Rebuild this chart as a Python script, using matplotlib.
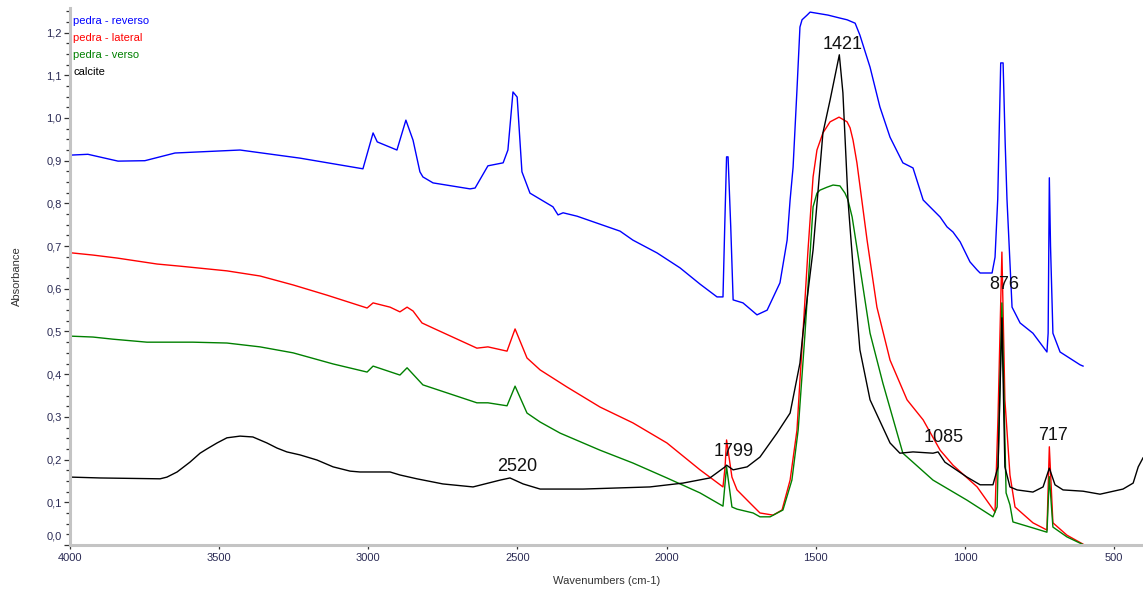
import matplotlib
matplotlib.use("Agg")
import matplotlib.pyplot as plt
from matplotlib.ticker import MultipleLocator, FuncFormatter

plt.rcParams['font.family'] = ['Liberation Sans', 'DejaVu Sans']

# pedra - reverso (blue)
blue_wn = [4000, 3940, 3839, 3749, 3648, 3430, 3229, 3018, 2984, 2970,
           2904, 2874, 2850, 2827, 2817, 2783, 2659, 2642, 2599, 2548,
           2532, 2515, 2501, 2485, 2458, 2381, 2364, 2347, 2300, 2156,
           2113, 2032, 1955, 1888, 1831, 1811, 1805, 1799, 1794, 1785,
           1777, 1744, 1697, 1663, 1620, 1596, 1586, 1576, 1563, 1553,
           1546, 1529, 1519, 1459, 1419, 1395, 1368, 1352, 1318, 1285,
           1251, 1208, 1174, 1140, 1083, 1060, 1040, 1016, 983, 959,
           949, 909, 899, 890, 880, 872, 865, 859, 842, 815,
           772, 725, 721, 717, 713, 705, 681, 614, 604]
blue_abs = [0.913, 0.915, 0.899, 0.900, 0.918, 0.925, 0.906, 0.881, 0.965, 0.944,
            0.925, 0.995, 0.948, 0.874, 0.862, 0.848, 0.834, 0.836, 0.888, 0.895,
            0.925, 1.061, 1.049, 0.874, 0.824, 0.792, 0.773, 0.778, 0.770, 0.735,
            0.714, 0.684, 0.649, 0.611, 0.581, 0.581, 0.750, 0.909, 0.909, 0.745,
            0.574, 0.567, 0.539, 0.550, 0.614, 0.714, 0.808, 0.885, 1.066, 1.213,
            1.230, 1.241, 1.248, 1.241, 1.234, 1.230, 1.222, 1.194, 1.119, 1.026,
            0.955, 0.895, 0.883, 0.808, 0.768, 0.745, 0.733, 0.710, 0.663, 0.644,
            0.637, 0.637, 0.674, 0.810, 1.129, 1.129, 0.941, 0.810, 0.557, 0.520,
            0.496, 0.452, 0.496, 0.860, 0.700, 0.496, 0.452, 0.422, 0.419]

# pedra - lateral (red)
red_wn = [3993, 3923, 3842, 3708, 3631, 3474, 3363, 3252, 3138, 3004,
          2984, 2927, 2894, 2870, 2850, 2820, 2783, 2636, 2599, 2535,
          2508, 2468, 2424, 2334, 2223, 2113, 1999, 1888, 1811, 1804,
          1799, 1781, 1764, 1720, 1687, 1643, 1613, 1586, 1563, 1553,
          1543, 1526, 1509, 1496, 1476, 1452, 1422, 1395, 1385, 1375,
          1362, 1328, 1295, 1251, 1194, 1140, 1083, 1040, 959, 899,
          889, 876, 866, 849, 832, 772, 725, 717, 705, 658,
          604]
red_abs = [0.684, 0.679, 0.672, 0.658, 0.653, 0.642, 0.630, 0.609, 0.585, 0.555,
           0.567, 0.557, 0.546, 0.557, 0.548, 0.520, 0.508, 0.461, 0.464, 0.454,
           0.506, 0.438, 0.410, 0.370, 0.323, 0.286, 0.239, 0.176, 0.136, 0.183,
           0.246, 0.159, 0.129, 0.098, 0.075, 0.070, 0.082, 0.152, 0.269, 0.386,
           0.496, 0.691, 0.862, 0.925, 0.965, 0.991, 1.002, 0.991, 0.977, 0.948,
           0.895, 0.714, 0.557, 0.433, 0.340, 0.293, 0.222, 0.187, 0.136, 0.077,
           0.300, 0.686, 0.340, 0.164, 0.089, 0.052, 0.035, 0.230, 0.052, 0.023,
           0.002]

# pedra - verso (green)
green_wn = [3993, 3923, 3856, 3742, 3588, 3474, 3363, 3252, 3118, 3004,
            2984, 2894, 2870, 2817, 2636, 2599, 2535, 2508, 2468, 2424,
            2357, 2223, 2113, 1999, 1888, 1811, 1799, 1781, 1764, 1710,
            1687, 1653, 1610, 1580, 1559, 1536, 1509, 1496, 1486, 1462,
            1442, 1419, 1402, 1392, 1378, 1352, 1318, 1275, 1208, 1107,
            993, 906, 892, 876, 862, 849, 839, 772, 725, 717,
            705, 658, 607]
green_abs = [0.489, 0.487, 0.482, 0.475, 0.475, 0.473, 0.464, 0.450, 0.424, 0.405,
             0.419, 0.398, 0.415, 0.375, 0.333, 0.333, 0.326, 0.372, 0.309, 0.288,
             0.262, 0.222, 0.192, 0.157, 0.122, 0.091, 0.183, 0.089, 0.084, 0.075,
             0.066, 0.066, 0.082, 0.152, 0.269, 0.496, 0.792, 0.824, 0.831, 0.838,
             0.843, 0.841, 0.824, 0.808, 0.768, 0.651, 0.496, 0.379, 0.215, 0.152,
             0.105, 0.066, 0.089, 0.567, 0.122, 0.094, 0.054, 0.040, 0.030, 0.160,
             0.042, 0.019, 0.002]

# calcite (black)
black_wn = [3997, 3899, 3698, 3675, 3641, 3598, 3564, 3541, 3507, 3474,
            3430, 3387, 3340, 3306, 3273, 3229, 3172, 3118, 3061, 3028,
            2927, 2894, 2837, 2750, 2649, 2558, 2525, 2481, 2424, 2280,
            2056, 1945, 1855, 1804, 1799, 1777, 1730, 1687, 1630, 1586,
            1553, 1543, 1509, 1476, 1452, 1421, 1409, 1392, 1375, 1352,
            1318, 1251, 1218, 1174, 1107, 1090, 1067, 993, 949, 906,
            889, 876, 866, 849, 825, 772, 738, 717, 698, 671,
            604, 547, 470, 436, 419, 403]
black_abs = [0.159, 0.157, 0.155, 0.159, 0.171, 0.194, 0.215, 0.225, 0.239, 0.251,
             0.255, 0.253, 0.239, 0.227, 0.218, 0.211, 0.199, 0.183, 0.173, 0.171,
             0.171, 0.164, 0.155, 0.143, 0.136, 0.152, 0.157, 0.143, 0.131, 0.131,
             0.136, 0.145, 0.157, 0.183, 0.187, 0.176, 0.183, 0.206, 0.262, 0.309,
             0.426, 0.496, 0.691, 0.965, 1.042, 1.148, 1.059, 0.808, 0.651, 0.457,
             0.340, 0.239, 0.215, 0.218, 0.215, 0.218, 0.194, 0.159, 0.141, 0.141,
             0.183, 0.532, 0.183, 0.136, 0.129, 0.124, 0.136, 0.180, 0.141, 0.129,
             0.126, 0.119, 0.131, 0.145, 0.183, 0.204]

names = ['pedra - reverso', 'pedra - lateral', 'pedra - verso', 'calcite']
colors = ['#0000ff', '#ff0000', '#008000', '#000000']

# peak labels: text, x, y
peak_text = ['2520', '1799', '1421', '1085', '876', '717']
peak_x = [2500, 1776, 1410, 1072, 869, 705]
peak_y = [0.185, 0.218, 1.172, 0.252, 0.609, 0.256]

fig = plt.figure(figsize=(11.43, 5.90), dpi=100)
ax = fig.add_axes([70 / 1143, 45 / 590, 1 - 70 / 1143, 537 / 590])

series = [(blue_wn, blue_abs), (red_wn, red_abs), (green_wn, green_abs), (black_wn, black_abs)]
for (wn, ab), c in zip(series, colors):
    ax.plot(wn, ab, color=c, lw=1.0)

ax.set_xlim(4000, 403)
ax.set_ylim(0.0, 1.2576)

for s in ['top', 'right']:
    ax.spines[s].set_visible(False)
for s in ['left', 'bottom']:
    ax.spines[s].set_color('#c4c4c4')
    ax.spines[s].set_linewidth(2.2)

def ylab(v, p):
    # the 0,0 label is drawn separately, lifted above the x axis
    if abs(v) < 1e-9:
        return ''
    return ('%.1f' % v).replace('.', ',')

ax.xaxis.set_major_locator(MultipleLocator(500))
ax.xaxis.set_minor_locator(MultipleLocator(100))
ax.yaxis.set_major_locator(MultipleLocator(0.1))
ax.yaxis.set_minor_locator(MultipleLocator(0.025))
ax.yaxis.set_major_formatter(FuncFormatter(ylab))
ax.xaxis.set_major_formatter(FuncFormatter(lambda v, p: '%d' % v))

ax.tick_params(axis='both', which='major', labelsize=8, labelcolor='#2b2b55',
               color='#333333', width=0.9)
ax.tick_params(axis='y', which='major', direction='out', length=4, pad=2)
ax.tick_params(axis='y', which='minor', direction='out', length=3, width=0.9, color='#333333')
ax.tick_params(axis='x', which='major', direction='out', length=3, pad=3)
ax.tick_params(axis='x', which='minor', direction='inout', length=2, width=0.9, color='#333333')

ax.annotate('0,0', xy=(0, 0), xycoords=('axes fraction', 'data'),
            xytext=(-5.8, 5.8), textcoords='offset points',
            ha='right', va='center', fontsize=8, color='#2b2b55')

ax.set_xlabel('Wavenumbers (cm-1)', fontsize=8, color='#333333', labelpad=9)
ax.set_ylabel('Absorbance', fontsize=8, color='#333333', labelpad=17.5)

for i, (n, c) in enumerate(zip(names, colors)):
    fig.text(73 / 1143, 1 - (21 + i * 17) / 590, n, color=c, fontsize=8,
             ha='left', va='center')

for t, x, y in zip(peak_text, peak_x, peak_y):
    ax.text(x, y, t, fontsize=13, ha='center', va='center', color='#111111')

fig.savefig('out.png', dpi=100)
